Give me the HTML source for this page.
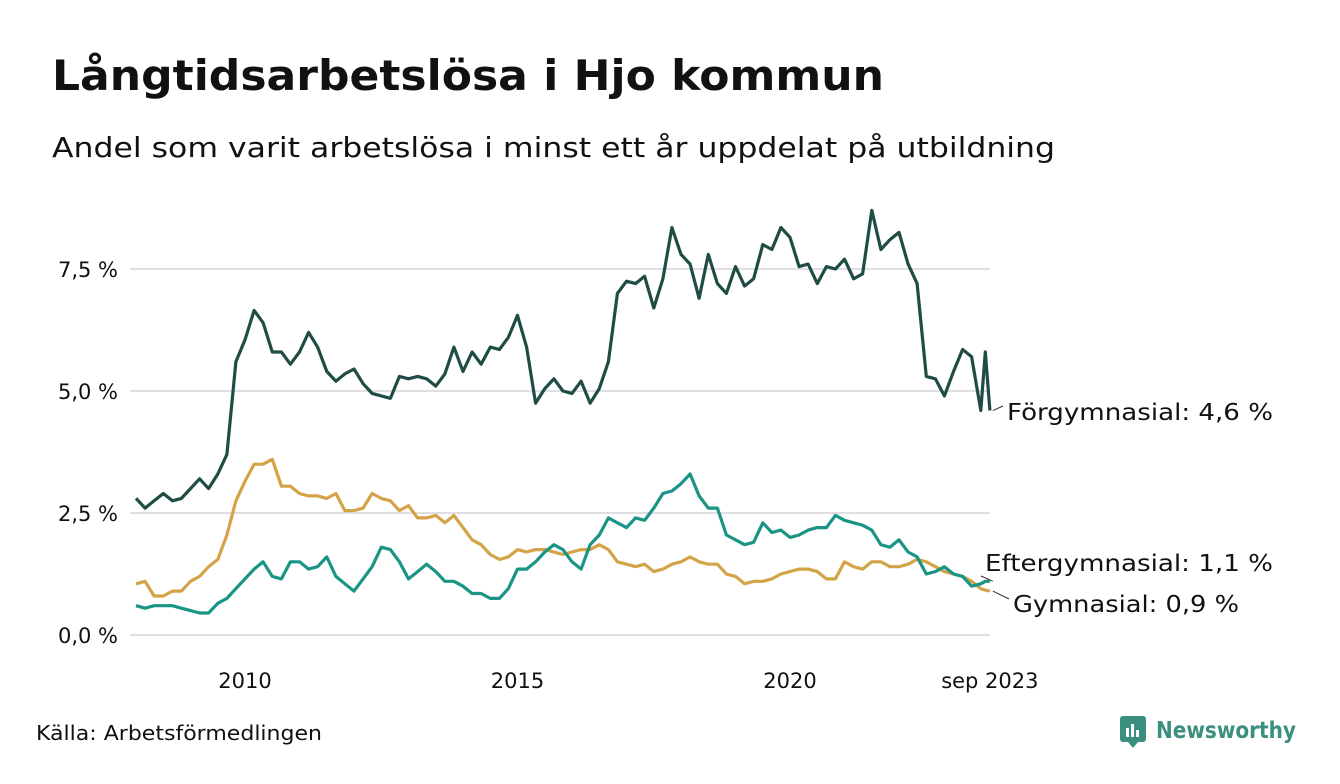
<!DOCTYPE html>
<html><head><meta charset="utf-8">
<style>
body{margin:0;background:#fff;width:1340px;height:780px;overflow:hidden;font-family:"DejaVu Sans",sans-serif;}
svg text{font-family:"DejaVu Sans","Liberation Sans",sans-serif;}
</style></head>
<body>
<svg id="chart" width="1340" height="780" xmlns="http://www.w3.org/2000/svg">
<text x="52" y="90" font-size="42" font-weight="bold" fill="#111" textLength="832" lengthAdjust="spacingAndGlyphs">Långtidsarbetslösa i Hjo kommun</text>
<text x="52" y="157" font-size="28" fill="#111" textLength="1003" lengthAdjust="spacingAndGlyphs">Andel som varit arbetslösa i minst ett år uppdelat på utbildning</text>
<g id="grid"></g>
<g id="series"></g>
<g id="labels"></g>
<text x="36" y="740" font-size="20" fill="#111" textLength="286" lengthAdjust="spacingAndGlyphs">Källa: Arbetsförmedlingen</text>
<g>
<rect x="1120" y="716" width="26" height="26" rx="3" fill="#3a8f7e"/>
<rect x="1126" y="728" width="3" height="9" fill="#fff"/><rect x="1131" y="724" width="3" height="13" fill="#fff"/><rect x="1136" y="730" width="3" height="7" fill="#fff"/>
<path d="M1128 742 L1133 748 L1138 742 Z" fill="#3a8f7e"/>
<text x="1156" y="738" font-size="23" font-weight="bold" fill="#3a8f7e" textLength="140" lengthAdjust="spacingAndGlyphs">Newsworthy</text>
</g>
</svg>
<script>
const startYear = 2008;
const stepYears = 2/12;
const forgymnasial = [2.8,2.6,2.75,2.9,2.75,2.8, 3.0,3.2,3.0,3.3,3.7,5.6, 6.05,6.65,6.4,5.8,5.8,5.55, 5.8,6.2,5.9,5.4,5.2,5.35, 5.45,5.15,4.95,4.9,4.85,5.3, 5.25,5.3,5.25,5.1,5.35,5.9, 5.4,5.8,5.55,5.9,5.85,6.1, 6.55,5.9,4.75,5.05,5.25,5.0, 4.95,5.2,4.75,5.05,5.6,7.0, 7.25,7.2,7.35,6.7,7.3,8.35, 7.8,7.6,6.9,7.8,7.2,7.0, 7.55,7.15,7.3,8.0,7.9,8.35, 8.15,7.55,7.6,7.2,7.55,7.5, 7.7,7.3,7.4,8.7,7.9,8.1, 8.25,7.6,7.2,5.3,5.25,4.9, 5.4,5.85,5.7,4.6,5.8,4.6];
const eftergymnasial = [0.6,0.55,0.6,0.6,0.6,0.55, 0.5,0.45,0.45,0.65,0.75,0.95, 1.15,1.35,1.5,1.2,1.15,1.5, 1.5,1.35,1.4,1.6,1.2,1.05, 0.9,1.15,1.4,1.8,1.75,1.5, 1.15,1.3,1.45,1.3,1.1,1.1, 1.0,0.85,0.85,0.75,0.75,0.95, 1.35,1.35,1.5,1.7,1.85,1.75, 1.5,1.35,1.85,2.05,2.4,2.3, 2.2,2.4,2.35,2.6,2.9,2.95, 3.1,3.3,2.85,2.6,2.6,2.05, 1.95,1.85,1.9,2.3,2.1,2.15, 2.0,2.05,2.15,2.2,2.2,2.45, 2.35,2.3,2.25,2.15,1.85,1.8, 1.95,1.7,1.6,1.25,1.3,1.4, 1.25,1.2,1.0,1.05,1.1,1.1];
const gymnasial = [1.05,1.1,0.8,0.8,0.9,0.9, 1.1,1.2,1.4,1.55,2.05,2.75, 3.15,3.5,3.5,3.6,3.05,3.05, 2.9,2.85,2.85,2.8,2.9,2.55, 2.55,2.6,2.9,2.8,2.75,2.55, 2.65,2.4,2.4,2.45,2.3,2.45, 2.2,1.95,1.85,1.65,1.55,1.6, 1.75,1.7,1.75,1.75,1.7,1.65, 1.7,1.75,1.75,1.85,1.75,1.5, 1.45,1.4,1.45,1.3,1.35,1.45, 1.5,1.6,1.5,1.45,1.45,1.25, 1.2,1.05,1.1,1.1,1.15,1.25, 1.3,1.35,1.35,1.3,1.15,1.15, 1.5,1.4,1.35,1.5,1.5,1.4, 1.4,1.45,1.55,1.5,1.4,1.3, 1.25,1.2,1.1,0.95,0.92,0.9];
const xYears = [2008,2008.167,2008.333,2008.5,2008.667,2008.833, 2009,2009.167,2009.333,2009.5,2009.667,2009.833, 2010,2010.167,2010.333,2010.5,2010.667,2010.833, 2011,2011.167,2011.333,2011.5,2011.667,2011.833, 2012,2012.167,2012.333,2012.5,2012.667,2012.833, 2013,2013.167,2013.333,2013.5,2013.667,2013.833, 2014,2014.167,2014.333,2014.5,2014.667,2014.833, 2015,2015.167,2015.333,2015.5,2015.667,2015.833, 2016,2016.167,2016.333,2016.5,2016.667,2016.833, 2017,2017.167,2017.333,2017.5,2017.667,2017.833, 2018,2018.167,2018.333,2018.5,2018.667,2018.833, 2019,2019.167,2019.333,2019.5,2019.667,2019.833, 2020,2020.167,2020.333,2020.5,2020.667,2020.833, 2021,2021.167,2021.333,2021.5,2021.667,2021.833, 2022,2022.167,2022.333,2022.5,2022.667,2022.833, 2023,2023.167,2023.333,2023.5,2023.583,2023.667];
const yTicks = [0, 2.5, 5.0, 7.5];
const yTickLabels = ["0,0 %","2,5 %","5,0 %","7,5 %"];
const xTicks = [2010, 2015, 2020, 2023.667];
const xTickLabels = ["2010","2015","2020","sep 2023"];
const seriesLabels = ["Förgymnasial: 4,6 %","Eftergymnasial: 1,1 %","Gymnasial: 0,9 %"];

const NS="http://www.w3.org/2000/svg";
const xScale = y => 245 + (y - 2010) * 54.5;
const yScale = v => 635 - v * 48.8;
function mk(tag, attrs, parent){const e=document.createElementNS(NS,tag);for(const k in attrs)e.setAttribute(k,attrs[k]);parent.appendChild(e);return e;}
const grid=document.getElementById('grid');
yTicks.forEach((t,i)=>{
  const l=mk('line',{x1:130,x2:990,y1:yScale(t),y2:yScale(t),stroke:'#dfdfe3','stroke-width':2},grid);
  
  
  const tx=mk('text',{x:118,y:yScale(t)+8,'font-size':21,'text-anchor':'end',fill:'#111'},grid);
  
  
  tx.textContent=yTickLabels[i];
});
xTicks.forEach((t,i)=>{
  const tx=mk('text',{x:xScale(t),y:688,'font-size':21,'text-anchor':'middle',fill:'#111'},grid);
  
  
  tx.textContent=xTickLabels[i];
});
const sg=document.getElementById('series');
const all=[[gymnasial,'#d4a347'],[eftergymnasial,'#1a9585'],[forgymnasial,'#1f4d45']];
all.forEach(([vals,col],si)=>{
  const d=vals.map((v,i)=>(i?'L':'M')+xScale(xYears[i]).toFixed(1)+' '+yScale(v).toFixed(1)).join(' ');
  const p=mk('path',{d:d,fill:'none',stroke:col,'stroke-width':3.2,'stroke-linejoin':'round'},sg);
  
  
});
const lg=document.getElementById('labels');
const endX=xScale(xYears[xYears.length-1]);
const lab=[[forgymnasial,1007,420,406,266],[eftergymnasial,985,571,576,288],[gymnasial,1013,612,599,226]];
lab.forEach(([vals,lx,ly,cy,w],i)=>{
  const ln=mk('line',{x1:endX+3,y1:yScale(vals[vals.length-1]),x2:lx-4,y2:cy,stroke:'#333','stroke-width':1},lg);
  
  
  const t=mk('text',{x:lx,y:ly,'font-size':23,fill:'#111',textLength:w,lengthAdjust:'spacingAndGlyphs'},lg);
  
  
  t.textContent=seriesLabels[i];
});
</script>
</body></html>
